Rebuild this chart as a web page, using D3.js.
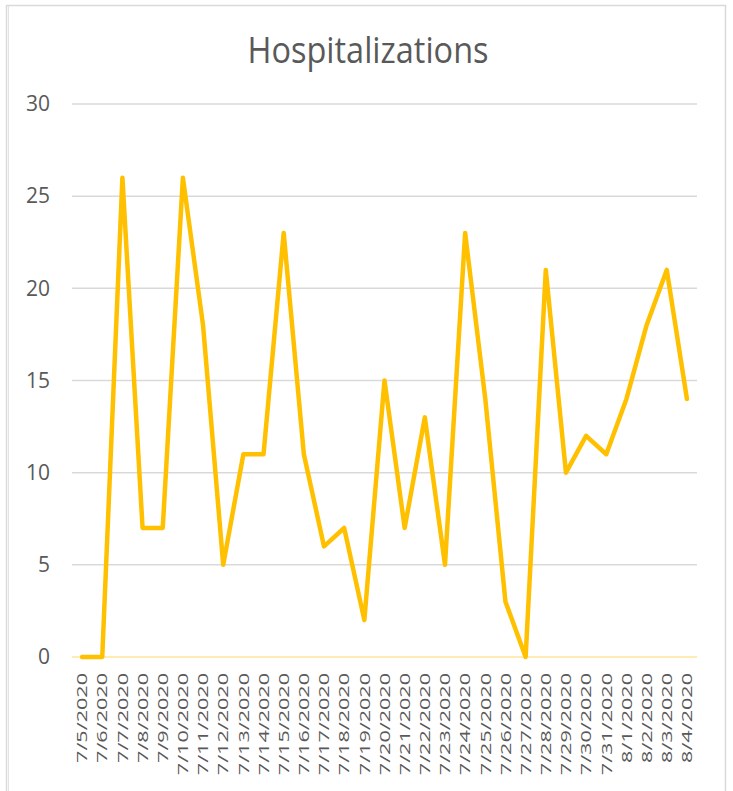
<!DOCTYPE html>
<html>
<head>
<meta charset="utf-8">
<script src="https://cdn.jsdelivr.net/npm/d3@7"></script>
<style>
  body { margin: 0; background: #fff; }
  svg { display: block; font-family: "Open Sans", sans-serif; }
</style>
</head>
<body>
<div id="chart"></div>
<script>
const dates = ["7/5/2020", "7/6/2020", "7/7/2020", "7/8/2020", "7/9/2020", "7/10/2020", "7/11/2020",
  "7/12/2020", "7/13/2020", "7/14/2020", "7/15/2020", "7/16/2020", "7/17/2020", "7/18/2020",
  "7/19/2020", "7/20/2020", "7/21/2020", "7/22/2020", "7/23/2020", "7/24/2020", "7/25/2020",
  "7/26/2020", "7/27/2020", "7/28/2020", "7/29/2020", "7/30/2020", "7/31/2020", "8/1/2020",
  "8/2/2020", "8/3/2020", "8/4/2020"];
const hospitalizations = [0, 0, 26, 7, 7, 26, 18, 5, 11, 11, 23, 11, 6, 7, 2, 15, 7, 13, 5, 23, 14,
  3, 0, 21, 10, 12, 11, 14, 18, 21, 14];
const yTicks = [0, 5, 10, 15, 20, 25, 30];

const W = 733;
const H = 791;
const M = { top: 104, right: 36, bottom: 134, left: 72 };

const svg = d3.select("#chart").append("svg").attr("width", W).attr("height", H);

// Rahmen
svg.append("rect")
  .attr("x", 6.5).attr("y", 5.5)
  .attr("width", 719).attr("height", 820)
  .attr("fill", "#fff")
  .attr("stroke", "#d9d9d9").attr("stroke-width", 1.5);
svg.append("line")
  .attr("x1", 8.5).attr("x2", 8.5).attr("y1", 6).attr("y2", H)
  .attr("stroke", "#e3e3e3").attr("stroke-width", 1);

svg.append("text")
  .attr("transform", "translate(368,62.5) scale(1,1.12)")
  .attr("text-anchor", "middle")
  .attr("font-size", 32.5)
  .attr("fill", "#595959")
  .text("Hospitalizations");

const x = d3.scaleBand()
  .domain(dates)
  .range([M.left, W - M.right]);

const y = d3.scaleLinear()
  .domain([0, 30])
  .range([H - M.bottom, M.top]);

// Gitterlinien
svg.append("g")
  .selectAll("line")
  .data(yTicks)
  .join("line")
  .attr("x1", M.left)
  .attr("x2", W - M.right)
  .attr("y1", d => y(d))
  .attr("y2", d => y(d))
  .attr("stroke", d => d === 0 ? "#ffe699" : "#d9d9d9")
  .attr("stroke-width", 1.5);

// Y-Achse
svg.append("g")
  .attr("transform", `translate(${M.left - 22},0)`)
  .call(d3.axisLeft(y).tickValues(yTicks).tickSize(0).tickPadding(0))
  .call(g => g.select(".domain").remove())
  .call(g => g.selectAll("text")
    .attr("font-family", "Open Sans")
    .attr("font-size", 21)
    .attr("fill", "#595959"));

// X-Achse
svg.append("g")
  .attr("transform", `translate(0,${H - M.bottom + 16})`)
  .call(d3.axisBottom(x).tickSize(0).tickPadding(0))
  .call(g => g.select(".domain").remove())
  .call(g => g.selectAll("text")
    .attr("font-family", "Open Sans")
    .attr("font-size", 15)
    .attr("fill", "#595959")
    .attr("text-anchor", "end")
    .attr("dy", "0.35em")
    .attr("transform", "rotate(-90) scale(1.44,1)"));

// Linie
const line = d3.line()
  .x((d, i) => x(dates[i]) + x.bandwidth() / 2)
  .y(d => y(d));

svg.append("path")
  .datum(hospitalizations)
  .attr("fill", "none")
  .attr("stroke", "#ffc000")
  .attr("stroke-width", 4.5)
  .attr("stroke-linejoin", "round")
  .attr("stroke-linecap", "round")
  .attr("d", line);
</script>
</body>
</html>
